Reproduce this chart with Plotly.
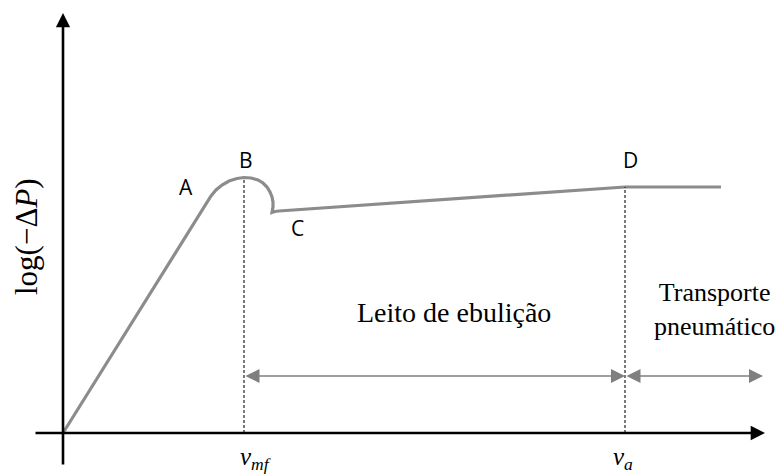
import plotly.graph_objects as go

# Fluidised-bed pressure-drop curve (schematic): log(-dP) against gas velocity
v_curve = [0, 136, 140, 144, 148, 153, 159, 166, 174, 181, 188, 195, 200, 204,
           207, 209, 210, 210, 209.5, 209, 212, 216, 562, 658]
logdp_curve = [0, 217, 224, 231, 237, 243, 248, 252, 254.5, 255.5, 255, 253, 250, 246,
               241, 236, 231, 226, 222.5, 220.5, 221.5, 222, 246, 246]

# characteristic velocities and the curve height there
v_mf, dp_mf = 181, 255
v_a, dp_a = 562, 246

# point labels
point_names = ["A", "B", "C", "D"]
point_v = [123, 183, 234, 567]
point_dp = [246, 273, 205, 273]

regime_y = 57          # height of the regime arrows
regime_end = 700       # right end of the pneumatic-transport arrow

GREY = "#8c8c8c"
SERIF = "Liberation Serif"
SANS = "Open Sans"

fig = go.Figure()

fig.add_trace(go.Scatter(
    x=v_curve, y=logdp_curve, mode="lines",
    line=dict(color=GREY, width=3.2),
    hoverinfo="skip", showlegend=False,
))

# dashed verticals at v_mf and v_a
for v, dp in [(v_mf, dp_mf), (v_a, dp_a)]:
    fig.add_trace(go.Scatter(
        x=[v, v], y=[0, dp], mode="lines",
        line=dict(color="#222222", width=1.2, dash="3px,2px"),
        hoverinfo="skip", showlegend=False,
    ))

annotations = []

# axes drawn as arrows
annotations.append(dict(x=0, y=420, ax=0, ay=-33, xref="x", yref="y", axref="x", ayref="y",
                        text="", showarrow=True, arrowhead=2, arrowsize=1.1, arrowwidth=2.6,
                        arrowcolor="black", standoff=0, startstandoff=0))
annotations.append(dict(x=702, y=0, ax=-29, ay=0, xref="x", yref="y", axref="x", ayref="y",
                        text="", showarrow=True, arrowhead=2, arrowsize=1.1, arrowwidth=2.6,
                        arrowcolor="black", standoff=0, startstandoff=0))

# regime arrows
for x0, x1 in [(v_mf, v_a), (v_a, regime_end)]:
    annotations.append(dict(x=x1, y=regime_y, ax=x0, ay=regime_y, xref="x", yref="y",
                            axref="x", ayref="y", text="", showarrow=True,
                            arrowhead=2, startarrowhead=2, arrowside="end+start",
                            arrowsize=2, startarrowsize=2, arrowwidth=1.4,
                            arrowcolor="#7f7f7f", standoff=0, startstandoff=0))

for name, v, dp in zip(point_names, point_v, point_dp):
    annotations.append(dict(x=v, y=dp, xref="x", yref="y", text=name, showarrow=False,
                            font=dict(family=SANS, size=21, color="black")))

annotations.append(dict(x=391, y=121, xref="x", yref="y", text="Leito de ebulição",
                        showarrow=False, font=dict(family=SERIF, size=28, color="black")))
annotations.append(dict(x=651, y=124, xref="x", yref="y", text="Transporte<br>pneumático",
                        showarrow=False, align="center",
                        font=dict(family=SERIF, size=26, color="black")))

annotations.append(dict(x=-37, y=196, xref="x", yref="y", text="log(−Δ<i>P</i>)",
                        showarrow=False, textangle=-90,
                        font=dict(family=SERIF, size=31, color="black")))

annotations.append(dict(x=v_mf + 11, y=-25, xref="x", yref="y",
                        text="<i>v</i><sub><i>mf</i></sub>", showarrow=False,
                        font=dict(family=SERIF, size=25, color="black")))
annotations.append(dict(x=v_a - 2, y=-25, xref="x", yref="y",
                        text="<i>v</i><sub><i>a</i></sub>", showarrow=False,
                        font=dict(family=SERIF, size=25, color="black")))

fig.update_layout(
    width=783, height=475,
    margin=dict(l=0, r=0, t=0, b=0),
    paper_bgcolor="white", plot_bgcolor="white",
    xaxis=dict(range=[-63, 720], visible=False, fixedrange=True),
    yaxis=dict(range=[-42, 433], visible=False, fixedrange=True),
    annotations=annotations,
    showlegend=False,
)

fig.write_html("out.html")
